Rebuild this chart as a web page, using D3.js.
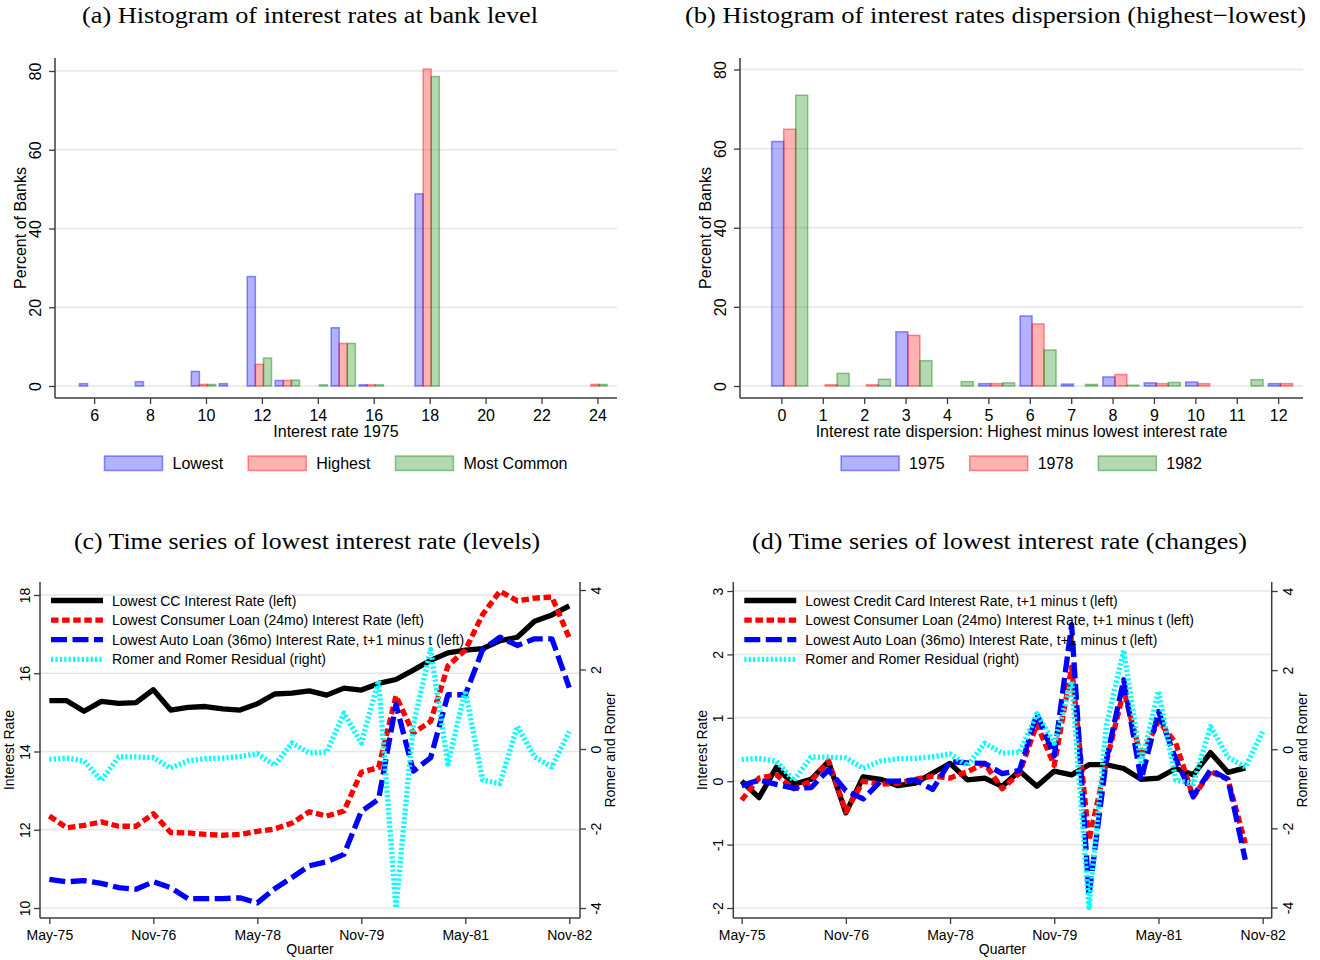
<!DOCTYPE html>
<html>
<head>
<meta charset="utf-8">
<script src="https://cdn.jsdelivr.net/npm/d3@7"></script>
<style>
  html, body { margin: 0; padding: 0; background: #fff; }
  svg { display: block; }
  text { font-family: "Liberation Sans", Arial, sans-serif; fill: #000; }
  text.title { font-family: "Liberation Serif", "Times New Roman", serif; }
</style>
</head>
<body>
<svg id="chart" width="1320" height="960"></svg>
<script>
/* Data */
/* **** */

// (a) share of banks by 1975 rate, three measures
var rateBins = [6, 8, 10, 11, 12, 13, 14, 15, 16, 18, 24];
var rateLowest = [0.6, 1.1, 3.7, 0.6, 27.8, 1.4, 0, 14.8, 0.3, 48.8, 0];
var rateHighest = [0, 0, 0.4, 0, 5.5, 1.4, 0, 10.8, 0.3, 80.5, 0.4];
var rateCommon = [0, 0, 0.4, 0, 7.1, 1.5, 0.3, 10.8, 0.3, 78.6, 0.4];
var rateTicks = [6, 8, 10, 12, 14, 16, 18, 20, 22, 24];

// (b) dispersion (highest minus lowest) by year
var dispBins = [0, 1, 2, 3, 4, 5, 6, 7, 8, 9, 10, 11, 12];
var disp1975 = [61.8, 0, 0, 13.7, 0, 0.6, 17.7, 0.5, 2.3, 0.8, 1.0, 0, 0.6];
var disp1978 = [64.9, 0.3, 0.3, 12.8, 0, 0.6, 15.7, 0, 2.9, 0.6, 0.6, 0, 0.6];
var disp1982 = [73.5, 3.2, 1.7, 6.4, 1.1, 0.8, 9.1, 0.4, 0.2, 0.9, 0, 1.6, 0];

var percentTicks = [0, 20, 40, 60, 80];

// quarters, May-75 .. Nov-82 (index 0..30)
var quarterTicks = [0, 6, 12, 18, 24, 30];
var quarterLabels = ['May-75', 'Nov-76', 'May-78', 'Nov-79', 'May-81', 'Nov-82'];

// (c) levels
var ccLevel = [15.3, 15.3, 15.03, 15.28, 15.23, 15.25, 15.58, 15.06, 15.13, 15.15, 15.09,
    15.06, 15.22, 15.47, 15.49, 15.55, 15.44, 15.62, 15.57, 15.74, 15.84, 16.08, 16.33,
    16.52, 16.59, 16.63, 16.83, 16.92, 17.33, 17.49, 17.72];
var consumerLevel = [12.35, 12.05, 12.11, 12.2, 12.09, 12.09, 12.41, 11.93, 11.92, 11.88, 11.86,
    11.88, 11.96, 12.02, 12.17, 12.46, 12.35, 12.48, 13.47, 13.59, 15.42, 14.47, 14.77,
    16.19, 16.59, 17.5, 18.1, 17.85, 17.92, 17.95, 16.9];
var autoLevel = [10.73, 10.67, 10.7, 10.63, 10.52, 10.48, 10.67, 10.52, 10.24, 10.24, 10.24,
    10.26, 10.13, 10.49, 10.78, 11.08, 11.18, 11.37, 12.47, 12.78, 15.2, 13.5, 13.84,
    15.45, 15.45, 16.6, 16.92, 16.71, 16.88, 16.88, 15.63];
var romerResidual = [-0.26, -0.23, -0.3, -0.79, -0.2, -0.2, -0.22, -0.48, -0.3, -0.24, -0.23,
    -0.19, -0.12, -0.41, 0.15, -0.1, -0.08, 0.9, 0.15, 1.72, -4.0, 0.6, 2.5,
    -0.38, 1.47, -0.78, -0.87, 0.57, -0.2, -0.45, 0.44];

// (d) changes, t+1 minus t (index 0..29)
var ccChange = [0, -0.26, 0.22, -0.05, 0.03, 0.31, -0.5, 0.07, 0.03, -0.07, -0.03, 0.13,
    0.28, 0.02, 0.05, -0.08, 0.16, -0.08, 0.16, 0.1, 0.26, 0.26, 0.2, 0.03, 0.05, 0.2,
    0.1, 0.45, 0.14, 0.21];
var consumerChange = [-0.3, 0.05, 0.1, -0.12, 0, 0.32, -0.48, 0, -0.05, -0.03, 0.03, 0.08,
    0.05, 0.15, 0.28, -0.12, 0.13, 0.9, 0.25, 1.8, -0.93, 0.3, 1.43, 0.38, 0.95, 0.6,
    -0.25, 0.15, 0.03, -0.98];
var autoChange = [-0.07, 0.02, -0.05, -0.11, -0.1, 0.18, -0.15, -0.28, 0, 0, 0.02, -0.13,
    0.31, 0.29, 0.28, 0.12, 0.17, 1.06, 0.4, 2.47, -1.8, 0.34, 1.6, 0.02, 1.1, 0.34,
    -0.24, 0.18, 0.03, -1.24];

/* Setup */
/* ***** */
var svg = d3.select('#chart');
var axisColor = '#3c3c3c';
var gridColor = '#e6e6e6';
var intFormat = function (d) { return String(d); };   // plain hyphen, as in the original

var barColors = [
    { fill: 'rgba(0,0,255,0.3)', stroke: 'rgba(0,0,255,0.42)' },
    { fill: 'rgba(255,0,0,0.3)', stroke: 'rgba(255,0,0,0.42)' },
    { fill: 'rgba(0,128,0,0.3)', stroke: 'rgba(0,128,0,0.42)' }
];

// serif title, stretched to the width of the wider book face used in the source
var addTitle = function (text, cx, baseline, width) {
    svg.append('text')
        .attr('class', 'title')
        .attr('x', cx - width / 2)
        .attr('y', baseline)
        .attr('textLength', width)
        .attr('lengthAdjust', 'spacingAndGlyphs')
        .style('font-size', '23.5px')
        .text(text);
};

var rotatedLabel = function (g, text, x, y, size) {
    g.append('text')
        .attr('transform', 'translate(' + x + ',' + y + ') rotate(-90)')
        .attr('text-anchor', 'middle')
        .style('font-size', size + 'px')
        .text(text);
};

var styleAxis = function (a) {
    a.select('.domain').remove();
    a.selectAll('line').attr('stroke', axisColor).attr('stroke-width', 1.3);
    a.selectAll('text').attr('fill', '#000');
};

/* Histogram panels */
/* **************** */
var drawHistogram = function (cfg) {
    var g = svg.append('g');
    var x = d3.scaleLinear().domain(cfg.xDomain).range([cfg.left, cfg.right]);
    var y = d3.scaleLinear().domain([0, 80]).range([cfg.zeroY, cfg.topY]);
    var barW = 0.29;

    g.selectAll('line.grid')
        .data(percentTicks)
        .enter()
        .append('line')
        .attr('class', 'grid')
        .attr('x1', cfg.left).attr('x2', cfg.right)
        .attr('y1', y).attr('y2', y)
        .attr('stroke', gridColor)
        .attr('stroke-width', 1.5);

    cfg.series.forEach(function (s, k) {
        var rows = cfg.bins
            .map(function (b, i) { return { bin: b, v: s.values[i] }; })
            .filter(function (d) { return d.v > 0; });
        g.selectAll(null)
            .data(rows)
            .enter()
            .append('rect')
            .attr('x', function (d) { return x(d.bin + cfg.offsets[k] - barW / 2); })
            .attr('width', x(cfg.xDomain[0] + barW) - x(cfg.xDomain[0]))
            .attr('y', function (d) { return y(d.v); })
            .attr('height', function (d) { return y(0) - y(d.v); })
            .attr('fill', barColors[k].fill)
            .attr('stroke', barColors[k].stroke)
            .attr('stroke-width', 1.5);
    });

    // axes
    g.append('g')
        .attr('transform', 'translate(0,' + cfg.bottom + ')')
        .call(d3.axisBottom(x).tickValues(cfg.ticks).tickSize(6).tickPadding(6).tickSizeOuter(0))
        .call(styleAxis)
        .selectAll('text').style('font-size', '16px');

    g.append('g')
        .attr('transform', 'translate(' + cfg.left + ',0)')
        .call(d3.axisLeft(y).tickValues(percentTicks).tickSize(6).tickSizeOuter(0))
        .call(styleAxis)
        .selectAll('text')
        .attr('x', 0).attr('dy', 0)
        .attr('text-anchor', 'middle')
        .attr('transform', 'translate(-14,0) rotate(-90)')
        .style('font-size', '16px');

    g.append('line')
        .attr('x1', cfg.left).attr('x2', cfg.left)
        .attr('y1', cfg.top).attr('y2', cfg.bottom)
        .attr('stroke', axisColor).attr('stroke-width', 1.5);
    g.append('line')
        .attr('x1', cfg.left).attr('x2', cfg.right)
        .attr('y1', cfg.bottom).attr('y2', cfg.bottom)
        .attr('stroke', axisColor).attr('stroke-width', 1.5);

    var mid = (cfg.left + cfg.right) / 2;
    g.append('text')
        .attr('x', mid).attr('y', cfg.bottom + 39)
        .attr('text-anchor', 'middle')
        .style('font-size', '16px')
        .text(cfg.xTitle);
    rotatedLabel(g, 'Percent of Banks', cfg.left - 29, (cfg.top + cfg.bottom) / 2, 16);

    // legend below, centred on the plot
    var leg = g.append('g');
    var cursor = 0;
    cfg.series.forEach(function (s, k) {
        var item = leg.append('g').attr('transform', 'translate(' + cursor + ',0)');
        item.append('rect')
            .attr('x', 0).attr('y', 0)
            .attr('width', 58).attr('height', 14.5)
            .attr('fill', barColors[k].fill)
            .attr('stroke', barColors[k].stroke)
            .attr('stroke-width', 1.5);
        var t = item.append('text')
            .attr('x', 68).attr('y', 13)
            .style('font-size', '16px')
            .text(s.label);
        cursor += 68 + t.node().getComputedTextLength() + 25;
    });
    cursor -= 25;
    leg.attr('transform', 'translate(' + (mid - cursor / 2) + ',' + (cfg.bottom + 58) + ')');
};

/* Time-series panels */
/* ****************** */
var drawTimeSeries = function (cfg) {
    var g = svg.append('g');
    var x = d3.scaleLinear().domain(cfg.xDomain).range([cfg.left, cfg.right]);
    var yL = d3.scaleLinear().domain(cfg.leftDomain).range(cfg.leftRange);
    var yR = d3.scaleLinear().domain([-4, 4]).range(cfg.rightRange);

    g.selectAll('line.grid')
        .data(cfg.leftTicks)
        .enter()
        .append('line')
        .attr('class', 'grid')
        .attr('x1', cfg.left).attr('x2', cfg.right)
        .attr('y1', yL).attr('y2', yL)
        .attr('stroke', gridColor)
        .attr('stroke-width', 1.5);

    cfg.series.forEach(function (s) {
        var ys = s.axis === 'right' ? yR : yL;
        var line = d3.line()
            .x(function (d, i) { return x(i); })
            .y(function (d) { return ys(d); });
        g.append('path')
            .datum(s.values)
            .attr('d', line)
            .attr('fill', 'none')
            .attr('stroke', s.color)
            .attr('stroke-width', 5.3)
            .attr('stroke-linejoin', 'round')
            .attr('stroke-dasharray', s.dash);
    });

    // axes
    g.append('g')
        .attr('transform', 'translate(0,' + cfg.bottom + ')')
        .call(d3.axisBottom(x).tickValues(quarterTicks).tickSize(6).tickPadding(6).tickSizeOuter(0)
            .tickFormat(function (d, i) { return quarterLabels[i]; }))
        .call(styleAxis)
        .selectAll('text').style('font-size', '14px');

    g.append('g')
        .attr('transform', 'translate(' + cfg.left + ',0)')
        .call(d3.axisLeft(yL).tickValues(cfg.leftTicks).tickSize(6).tickSizeOuter(0).tickFormat(intFormat))
        .call(styleAxis)
        .selectAll('text')
        .attr('x', 0).attr('dy', 0)
        .attr('text-anchor', 'middle')
        .attr('transform', 'translate(-10,0) rotate(-90)')
        .style('font-size', '14px');

    g.append('g')
        .attr('transform', 'translate(' + cfg.right + ',0)')
        .call(d3.axisRight(yR).tickValues([-4, -2, 0, 2, 4]).tickSize(6).tickSizeOuter(0).tickFormat(intFormat))
        .call(styleAxis)
        .selectAll('text')
        .attr('x', 0).attr('dy', 0)
        .attr('text-anchor', 'middle')
        .attr('transform', 'translate(21,0) rotate(-90)')
        .style('font-size', '14px');

    [[cfg.left, cfg.top, cfg.left, cfg.bottom],
     [cfg.right, cfg.top, cfg.right, cfg.bottom],
     [cfg.left, cfg.bottom, cfg.right, cfg.bottom]].forEach(function (p) {
        g.append('line')
            .attr('x1', p[0]).attr('y1', p[1]).attr('x2', p[2]).attr('y2', p[3])
            .attr('stroke', axisColor).attr('stroke-width', 1.5);
    });

    var midX = (cfg.left + cfg.right) / 2;
    var midY = (cfg.top + cfg.bottom) / 2;
    g.append('text')
        .attr('x', midX).attr('y', cfg.bottom + 36)
        .attr('text-anchor', 'middle')
        .style('font-size', '14px')
        .text('Quarter');
    rotatedLabel(g, 'Interest Rate', cfg.left - 26, midY, 14);
    rotatedLabel(g, 'Romer and Romer', cfg.right + 35, midY, 14);

    // legend inside, top-left
    var leg = g.append('g');
    cfg.series.forEach(function (s, k) {
        var ly = 600.5 + k * 19.6;
        leg.append('line')
            .attr('x1', cfg.left + 11).attr('x2', cfg.left + 63)
            .attr('y1', ly).attr('y2', ly)
            .attr('stroke', s.color)
            .attr('stroke-width', 5.3)
            .attr('stroke-dasharray', s.dash);
        leg.append('text')
            .attr('x', cfg.left + 72).attr('y', ly + 5)
            .style('font-size', '14px')
            .text(s.label);
    });
};

/* Build */
/* ***** */
addTitle('(a) Histogram of interest rates at bank level', 310, 23, 456);
addTitle('(b) Histogram of interest rates dispersion (highest\u2212lowest)', 995.5, 23, 621);
addTitle('(c) Time series of lowest interest rate (levels)', 307, 549, 466);
addTitle('(d) Time series of lowest interest rate (changes)', 999.5, 549, 495);

drawHistogram({
    left: 55, right: 617, top: 58, bottom: 398, zeroY: 386, topY: 71,
    xDomain: [4.6, 24.7], ticks: rateTicks, bins: rateBins,
    offsets: [-0.38, -0.09, 0.2],
    xTitle: 'Interest rate 1975',
    series: [
        { label: 'Lowest', values: rateLowest },
        { label: 'Highest', values: rateHighest },
        { label: 'Most Common', values: rateCommon }
    ]
});

drawHistogram({
    left: 740, right: 1303, top: 58, bottom: 398, zeroY: 386, topY: 69.5,
    xDomain: [-1, 12.6], ticks: dispBins, bins: dispBins,
    offsets: [-0.09, 0.2, 0.49],
    xTitle: 'Interest rate dispersion: Highest minus lowest interest rate',
    series: [
        { label: '1975', values: disp1975 },
        { label: '1978', values: disp1978 },
        { label: '1982', values: disp1982 }
    ]
});

var solid = null;
var shortDash = '7.5 3.6';
var longDash = '16 5.5';
var dotted = '2.2 2.2';

drawTimeSeries({
    left: 40, right: 580, top: 582, bottom: 918,
    xDomain: [-0.54, 30.62],
    leftDomain: [10, 18], leftRange: [908, 595], leftTicks: [10, 12, 14, 16, 18],
    rightRange: [908, 590],
    series: [
        { label: 'Lowest CC Interest Rate (left)', values: ccLevel, color: '#000', dash: solid },
        { label: 'Lowest Consumer Loan (24mo) Interest Rate (left)', values: consumerLevel, color: '#f00', dash: shortDash },
        { label: 'Lowest Auto Loan (36mo) Interest Rate, t+1 minus t  (left)', values: autoLevel, color: '#00f', dash: longDash },
        { label: 'Romer and Romer Residual (right)', values: romerResidual, color: '#0ff', dash: dotted, axis: 'right' }
    ]
});

drawTimeSeries({
    left: 733.3, right: 1271.7, top: 582, bottom: 918,
    xDomain: [-0.48, 30.52],
    leftDomain: [-2, 3], leftRange: [908, 591], leftTicks: [-2, -1, 0, 1, 2, 3],
    rightRange: [907.5, 591],
    series: [
        { label: 'Lowest Credit Card Interest Rate, t+1 minus t (left)', values: ccChange, color: '#000', dash: solid },
        { label: 'Lowest Consumer Loan (24mo) Interest Rate, t+1 minus t (left)', values: consumerChange, color: '#f00', dash: shortDash },
        { label: 'Lowest Auto Loan (36mo) Interest Rate, t+1 minus t  (left)', values: autoChange, color: '#00f', dash: longDash },
        { label: 'Romer and Romer Residual (right)', values: romerResidual, color: '#0ff', dash: dotted, axis: 'right' }
    ]
});
</script>
</body>
</html>
